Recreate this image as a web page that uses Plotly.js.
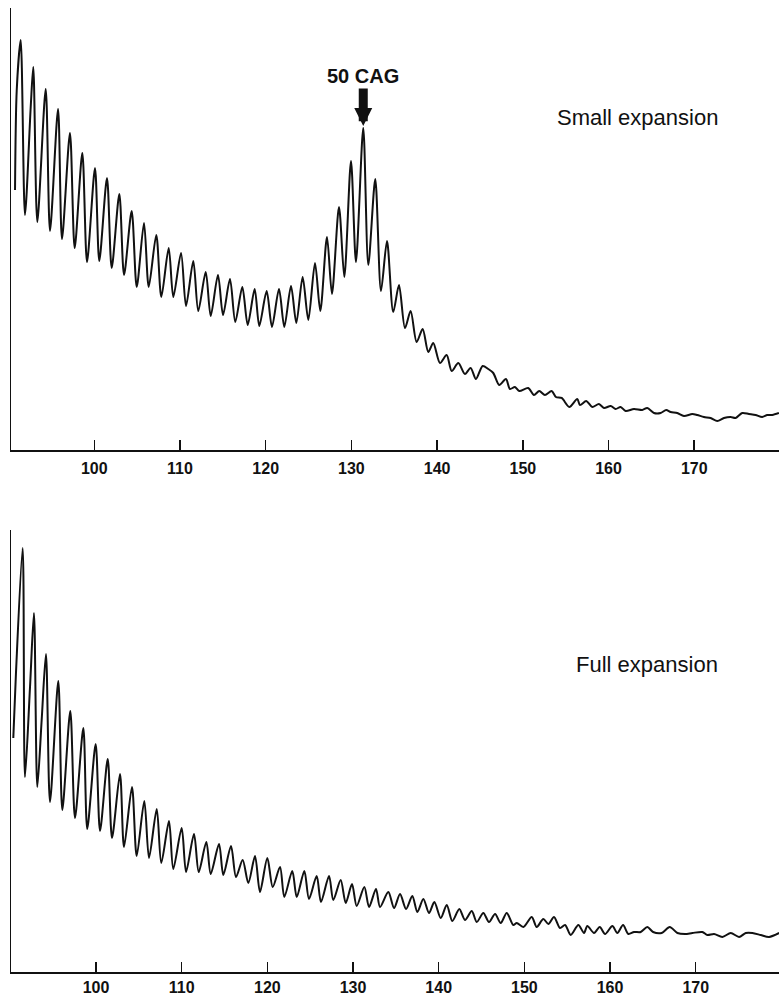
<!DOCTYPE html>
<html>
<head>
<meta charset="utf-8">
<script src="https://cdn.plot.ly/plotly-3.0.1.min.js"></script>
<style>html,body{margin:0;padding:0;background:#fff;}#chart{width:779px;height:996px;}</style>
</head>
<body>
<div id="chart"></div>
<script>
// Size axis (x) tick values
const tickValues = [100, 110, 120, 130, 140, 150, 160, 170];
const tickLabels = ["100", "110", "120", "130", "140", "150", "160", "170"];

// Panel labels
const panelTop = "Small expansion";
const panelBottom = "Full expansion";
const peakLabel = "50 CAG";
const peakX = 131.38;
const peakY = 322;

// Small expansion trace (peaks and troughs)
const smallX = [90.75,90.95,91.41,91.91,92.58,92.88,93.35,94.33,94.83,95.77,96.23,97.16,97.71,98.60,99.15,100.08,100.58,101.48,102.03,102.92,103.47,104.36,104.95,105.80,106.35,107.23,107.82,108.68,109.22,110.12,110.70,111.55,112.13,113.00,113.58,114.43,115.02,115.83,116.45,117.27,117.90,118.71,119.25,120.11,120.73,121.55,122.17,122.95,123.57,124.31,124.97,125.75,126.37,127.15,127.73,128.55,129.17,129.95,130.53,131.38,131.97,132.78,133.45,134.15,134.88,135.55,136.25,136.91,137.61,138.31,138.97,139.55,140.33,141.11,141.70,142.47,143.25,143.91,144.53,145.31,145.97,146.55,147.25,148.03,148.50,149.08,149.58,150.63,151.30,151.92,152.58,153.36,153.86,154.53,155.42,156.35,156.67,157.40,158.10,158.88,159.47,160.25,160.83,161.41,162.00,162.97,163.93,164.52,165.30,166.08,166.73,167.25,168.02,168.80,169.77,170.35,171.13,171.91,172.69,173.47,174.25,174.83,175.60,176.38,177.16,177.93,178.52,179.10,179.88];
const smallY = [260,360,410,235,343,383,228,361,219,341,211,317,202,297,188,282,189,272,182,256,175,239,163,227,163,215,153,202,153,197,144,189,139,178,134,175,135,171,128,163,125,161,124,159,123,161,123,164,127,173,130,187,139,213,156,243,173,289,188,322,185,271,159,209,138,165,122,139,108,121,98,107,87,95,79,87,76,82,71,84,81,77,65,71,61,63,59,62,55,59,55,59,53,52,43,51,45,49,43,46,42,44,41,43,39,41,40,42,37,37,40,38,37,34,36,35,33,32,29,32,33,32,37,36,35,33,35,35,37];

// Full expansion trace (peaks and troughs)
const fullX = [90.35,90.66,91.44,91.71,92.30,92.76,93.15,93.66,94.16,94.63,95.60,96.07,97.00,97.55,98.52,98.98,99.96,100.47,101.37,101.87,102.80,103.27,104.20,104.75,105.64,106.19,107.09,107.62,108.52,109.02,110.00,110.51,111.44,111.99,112.88,113.39,114.36,114.86,115.76,116.34,117.12,117.78,118.56,119.14,120.00,120.63,121.48,121.98,122.91,123.43,124.32,124.86,125.76,126.26,127.20,127.70,128.56,129.15,129.88,130.43,131.32,131.87,132.68,133.15,134.12,134.79,135.49,136.19,136.92,137.51,138.21,138.87,139.49,140.24,140.94,141.59,142.41,143.07,143.86,144.44,145.21,145.87,146.58,147.24,147.94,148.71,149.11,149.88,150.86,151.44,152.21,152.80,153.46,154.16,154.75,155.41,156.30,156.96,157.35,158.13,158.80,159.42,160.27,160.85,161.52,162.14,162.80,163.58,164.35,165.02,166.03,166.97,167.86,168.75,169.61,170.77,171.36,172.14,173.11,174.09,175.06,175.84,176.61,177.59,178.56,179.73];
const fullY = [234,299,424,195,285,359,185,252,318,170,291,162,261,154,244,143,228,141,213,134,198,125,185,116,171,114,163,109,151,103,144,100,138,100,130,98,128,97,126,95,112,89,116,80,114,85,105,75,101,75,101,73,96,70,96,72,92,69,88,66,85,65,83,65,80,64,78,63,76,60,73,59,70,54,67,51,63,52,61,50,59,50,58,49,59,47,49,45,55,45,53,48,55,44,47,37,47,39,46,39,45,38,46,39,47,38,40,40,45,40,39,45,39,38,39,40,37,38,35,39,35,39,39,37,35,39];

const FONT = '"Liberation Sans", Arial, Helvetica, sans-serif';
const lineStyle = {color: '#111', width: 2, shape: 'spline', smoothing: 0.8};

const traces = [
  {x: smallX, y: smallY, xaxis: 'x', yaxis: 'y', type: 'scatter', mode: 'lines', line: lineStyle, hoverinfo: 'skip'},
  {x: fullX, y: fullY, xaxis: 'x2', yaxis: 'y2', type: 'scatter', mode: 'lines', line: lineStyle, hoverinfo: 'skip'}
];

function xAxis(range, anchor, standoff) {
  return {
    range: range, anchor: anchor, showgrid: false, zeroline: false,
    showline: true, linecolor: '#111', linewidth: 2,
    ticks: 'inside', ticklen: 10, tickwidth: 1.5, tickcolor: '#111',
    tickmode: 'array', tickvals: tickValues, ticktext: tickLabels,
    ticklabelstandoff: standoff,
    tickfont: {family: FONT, size: 16, color: '#111', weight: 'bold'}
  };
}
function yAxis(domain, anchor) {
  return {
    domain: domain, anchor: anchor, range: [0, 442], showgrid: false, zeroline: false,
    showline: true, linecolor: '#111', linewidth: 1.5, ticks: '', showticklabels: false
  };
}

const layout = {
  width: 779, height: 996,
  margin: {l: 11, r: 0, t: 8, b: 24},
  paper_bgcolor: '#fff', plot_bgcolor: '#fff',
  showlegend: false,
  xaxis: xAxis([90.28, 179.89], 'y', 3),
  yaxis: yAxis([0.5415, 1], 'x'),
  xaxis2: xAxis([90.08, 179.72], 'y2', 0),
  yaxis2: yAxis([0, 0.4585], 'x2'),
  annotations: [
    {xref: 'paper', yref: 'paper', x: 0.9232, y: 0.8869, xanchor: 'right', yanchor: 'middle',
     text: panelTop, showarrow: false, font: {family: FONT, size: 22, color: '#111'}},
    {xref: 'paper', yref: 'paper', x: 0.9232, y: 0.3195, xanchor: 'right', yanchor: 'middle',
     text: panelBottom, showarrow: false, font: {family: FONT, size: 22, color: '#111'}},
    {xref: 'x', yref: 'y', x: peakX, y: peakY, text: peakLabel, showarrow: true,
     ax: 0, ay: -52, arrowhead: 2, arrowsize: 0.4, arrowwidth: 9, arrowcolor: '#111',
     standoff: 2, font: {family: FONT, size: 20, color: '#111', weight: 'bold'}}
  ]
};

Plotly.newPlot('chart', traces, layout, {staticPlot: true, displayModeBar: false});
</script>
</body>
</html>
